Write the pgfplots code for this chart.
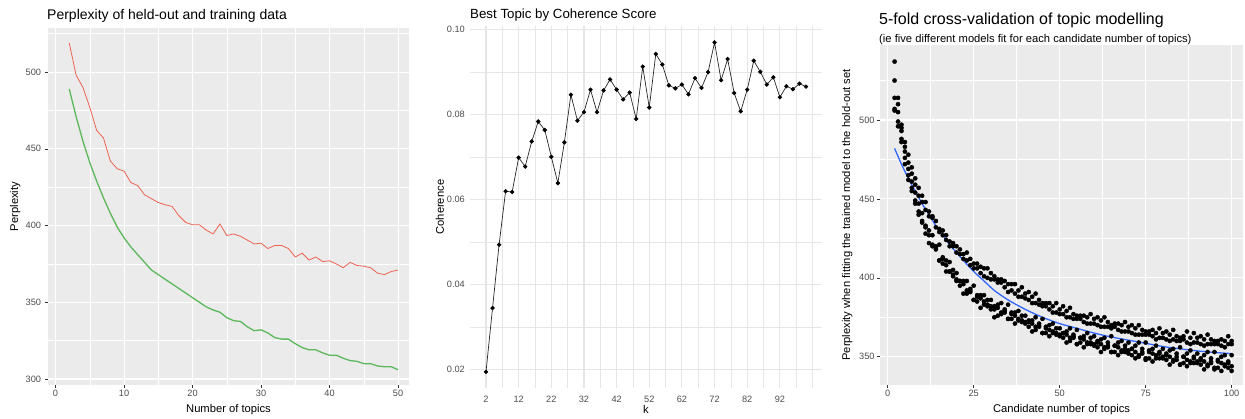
\documentclass[border=0pt]{standalone}
\usepackage{pgfplots}
\usepackage{pgfplotstable}
\pgfplotsset{compat=1.18}
\usepackage{fontspec}
\setmainfont{Liberation Sans}
\definecolor{ggbg}{HTML}{EBEBEB}
\definecolor{ggtxt}{HTML}{4D4D4D}
\definecolor{ggred}{HTML}{EE6352}
\definecolor{gggreen}{HTML}{5DB85D}
\definecolor{ggblue}{HTML}{3366FF}
\definecolor{gggrid}{HTML}{E6E6E6}

\pgfplotstableread{
k red green
2 519 489
3 498 471
4 490 455
5 477 441
6 462 429
7 457 418
8 442 408
9 437 399
10 435.5 392
11 428 386
12 426 381
13 420 376
14 417.5 371
15 415 368
16 413.5 365
17 412.5 362
18 406.5 359
19 402 356
20 400.5 353
21 400.5 350
22 397 347
23 394.5 345
24 401 343.5
25 393.5 340
26 394.5 338
27 393 337.5
28 390.5 334
29 388 331.5
30 388.5 332
31 385 330
32 387 327
33 387 326
34 385 326
35 379.5 323
36 382 320.5
37 377.5 319
38 379.5 319
39 376.5 317
40 377 315.5
41 375 315.5
42 372.5 313.5
43 376 312
44 374 311.5
45 373.5 310
46 372.5 310
47 369 308.5
48 368 308
49 370 308
50 371 306
}\perptable

\pgfplotstableread{
k coh
2 0.0194
4 0.0344
6 0.0493
8 0.0619
10 0.0617
12 0.0698
14 0.0677
16 0.0736
18 0.0783
20 0.0763
22 0.0700
24 0.0638
26 0.0734
28 0.0846
30 0.0785
32 0.0805
34 0.0858
36 0.0805
38 0.0856
40 0.0882
42 0.0858
44 0.0835
46 0.0851
48 0.0789
50 0.0912
52 0.0816
54 0.0942
56 0.0917
58 0.0868
60 0.0861
62 0.0870
64 0.0847
66 0.0885
68 0.0862
70 0.0899
72 0.0969
74 0.0880
76 0.0930
78 0.0850
80 0.0807
82 0.0858
84 0.0926
86 0.0900
88 0.0870
90 0.0887
92 0.0840
94 0.0866
96 0.0859
98 0.0872
100 0.0865
}\cohtable

\pgfplotstableread{
k a b c d e
2 537 525 514 507 506
3 514 510 505 496 499
4 497 495 488 493 486
5 486 483 480 476 472
6 478 473 469 465 462
7 470 466 461 457 455
8 463 459 454 449 447
9 457 452 447 442 440
10 452 448 441 435 436
11 448 443 432 433 428
12 442 439 430 427 422
13 438 439 427 420 421
14 436 432 420 418 419
15 431 429 421 411 411
16 427 430 412 413 409
17 427 424 411 408 404
18 423 420 410 404 404
19 420 422 402 405 401
20 420 416 403 398 399
21 415 418 398 398 395
22 415 412 398 396 390
23 416 411 398 390 392
24 408 412 393 391 392
25 409 406 395 386 386
26 406 409 388 389 385
27 407 403 389 387 381
28 401 406 389 383 385
29 406 400 383 386 382
30 403 399 386 380 382
31 399 401 382 375 380
32 399 397 383 381 376
33 397 399 384 377 378
34 398 394 380 378 379
35 391 396 383 374 374
36 396 392 377 378 374
37 396 390 378 376 371
38 388 392 379 373 374
39 394 388 373 376 372
40 387 390 376 371 372
41 391 386 372 373 369
42 384 388 373 371 366
43 390 384 375 367 369
44 383 386 371 369 370
45 384 382 374 365 365
46 382 384 368 369 365
47 384 380 370 367 363
48 378 382 371 365 366
49 384 378 365 368 364
50 377 380 368 363 364
51 382 377 365 365 362
52 375 379 366 364 359
53 381 375 368 360 362
54 374 377 364 362 363
55 376 374 367 358 358
56 374 376 362 362 359
57 376 372 363 361 356
58 371 375 365 358 359
59 377 371 359 362 358
60 371 374 363 357 358
61 375 370 359 360 356
62 369 373 361 358 353
63 375 369 362 355 356
64 369 372 359 356 357
65 370 368 363 353 353
66 369 371 357 357 353
67 371 367 359 356 351
68 366 370 360 353 354
69 372 366 355 357 353
70 366 369 359 352 354
71 370 365 355 355 351
72 364 368 357 353 349
73 370 364 359 350 351
74 364 367 355 352 353
75 366 364 359 348 349
76 364 366 354 353 349
77 367 363 355 352 347
78 361 365 357 349 351
79 368 362 352 353 349
80 362 365 355 349 350
81 366 361 352 351 348
82 360 364 354 350 345
83 367 361 355 347 348
84 360 363 352 348 350
85 362 360 356 345 345
86 361 363 350 350 346
87 366 359 352 348 344
88 358 362 354 346 347
89 365 359 349 350 346
90 359 362 352 346 347
91 363 358 349 348 345
92 357 361 351 347 342
93 364 358 353 344 345
94 358 361 349 346 347
95 360 358 353 342 343
96 358 360 348 347 343
97 361 357 350 346 341
98 356 360 351 344 345
99 363 358 346 347 343
100 360 358 351 344 341
}\cvtable

\pgfplotstableread{
k s
2 482
4 472
6 463
8 455
10 447
12 440
14 433
16 427
18 421
20 416
22 411
25 404
28 398
31 392
35 386
40 380
45 375
50 371
55 368
60 365
65 362.5
70 360.5
75 358.5
80 356.5
85 355
90 353.7
95 352.7
100 352
}\smoothtable

\pgfplotsset{
  ggbase/.style={scale only axis, anchor=south west, tick pos=left,
    axis line style={draw=none}, scaled ticks=false,
    /pgf/number format/assume math mode=true,
    ticklabel style={font=\fontsize{9.2}{9}\selectfont, text=ggtxt, inner sep=0pt},
    label style={font=\fontsize{11.2}{12}\selectfont, text=black},
    xlabel style={at={(axis description cs:0.5,0)}, anchor=base},
    grid=both, minor tick length=0pt},
  gggrey/.style={ggbase, axis background/.style={fill=ggbg},
    xticklabel style={anchor=north, yshift=-2.6pt},
    major grid style={white, line width=1.07pt},
    minor grid style={white, line width=0.53pt},
    major tick length=2.75pt, tick align=outside,
    tick style={draw=black!80, line width=0.5pt}},
  ggmin/.style={ggbase,
    xticklabel style={anchor=north, yshift=-7pt},
    major grid style={gggrid, line width=1.07pt},
    minor grid style={gggrid, line width=0.53pt},
    major tick length=0pt},
}

\begin{document}
\begin{tikzpicture}
\useasboundingbox (0,0) rectangle (1245pt,419pt);

% Left panel
\begin{axis}[gggrey, at={(48pt,34pt)}, width=361pt, height=357pt,
  xmin=-1.1, xmax=51.6, ymin=296.1, ymax=528.7,
  xtick={0,10,...,50}, minor xtick={5,15,...,45},
  ytick={300,350,...,500}, minor ytick={325,375,...,525},
  yticklabel style={anchor=east, xshift=-4pt},
  xlabel={Number of topics}, ylabel={Perplexity},
  xlabel style={yshift=-27.3pt},
  ylabel style={at={(axis description cs:-0.0831,0.5)}, anchor=base}]
\addplot[gggreen, line width=1.3pt] table[x=k, y=green] {\perptable};
\addplot[ggred, line width=0.8pt] table[x=k, y=red] {\perptable};
\end{axis}

% Middle panel
\begin{axis}[ggmin, at={(470pt,30.6pt)}, width=352pt, height=362.5pt,
  xmin=-2.9, xmax=104.9, ymin=0.0155, ymax=0.1008,
  xtick={2,12,...,92}, minor xtick={7,17,...,97,102},
  ytick={0.02,0.04,0.06,0.08,0.1}, yticklabels={0.02,0.04,0.06,0.08,0.10},
  minor ytick={0.03,0.05,0.07,0.09},
  yticklabel style={anchor=east, xshift=-5pt},
  xlabel={k}, ylabel={Coherence},
  xlabel style={yshift=-24.9pt},
  ylabel style={at={(axis description cs:-0.0739,0.5)}, anchor=base}]
\addplot[black!85, line width=0.7pt, mark=*, mark size=1.8pt, mark options={black}] table[x=k, y=coh] {\cohtable};
\end{axis}

% Right panel
\begin{axis}[gggrey, at={(880pt,34pt)}, width=363pt, height=340pt,
  xmin=-2.24, xmax=103.3, ymin=332.1, ymax=547.5,
  xtick={0,25,...,100}, minor xtick={12.5,37.5,62.5,87.5},
  ytick={350,400,...,500}, minor ytick={375,425,...,525},
  yticklabel style={anchor=east, xshift=-2.5pt},
  xlabel={Candidate number of topics},
  ylabel={Perplexity when fitting the trained model to the hold-out set},
  xlabel style={yshift=-27.3pt},
  ylabel style={at={(axis description cs:-0.0826,0.5)}, anchor=base}]
\addplot[only marks, mark=*, mark size=2.1pt, black] table[x=k, y=a] {\cvtable};
\addplot[only marks, mark=*, mark size=2.1pt, black] table[x=k, y=b] {\cvtable};
\addplot[only marks, mark=*, mark size=2.1pt, black] table[x=k, y=c] {\cvtable};
\addplot[only marks, mark=*, mark size=2.1pt, black] table[x=k, y=d] {\cvtable};
\addplot[only marks, mark=*, mark size=2.1pt, black] table[x=k, y=e] {\cvtable};
\addplot[ggblue, line width=1.3pt, smooth] table[x=k, y=s] {\smoothtable};
\end{axis}

% Titles
\node[anchor=base west, inner sep=0pt, font=\fontsize{14}{14}\selectfont] at (47pt,399.7pt) {Perplexity of held-out and training data};
\node[anchor=base west, inner sep=0pt, font=\fontsize{13.3}{14}\selectfont] at (470pt,400.7pt) {Best Topic by Coherence Score};
\node[anchor=base west, inner sep=0pt, font=\fontsize{16}{16}\selectfont] at (879pt,394.2pt) {5-fold cross-validation of topic modelling};
\node[anchor=base west, inner sep=0pt, font=\fontsize{11.2}{12}\selectfont] at (879pt,376.7pt) {(ie five different models fit for each candidate number of topics)};
\end{tikzpicture}
\end{document}
